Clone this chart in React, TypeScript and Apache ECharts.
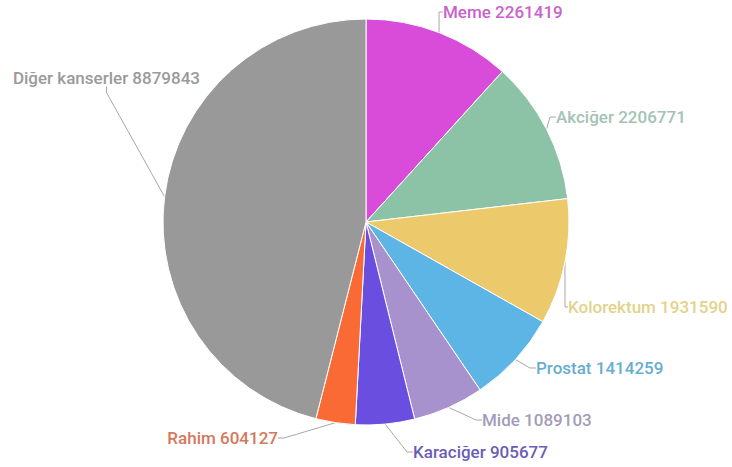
import React, { useEffect, useRef } from "react";
import * as echarts from "echarts";

const names = ["Meme", "Akciğer", "Kolorektum", "Prostat", "Mide", "Karaciğer", "Rahim", "Diğer kanserler"];
const values = [2261419, 2206771, 1931590, 1414259, 1089103, 905677, 604127, 8879843];
const colors = ["#d94bd9", "#8cc3a6", "#ecc96a", "#5db5e5", "#a892cd", "#6a4ee0", "#fa6a35", "#999999"];
const labelColors = ["#c962cb", "#a3c3b4", "#e3d28c", "#68add0", "#a39cb8", "#6a5cb8", "#d4785c", "#9a9a9a"];
// label anchor positions (page coords) and alignment
const labelPos: [number, number, string][] = [
  [443, 12, "left"],
  [556, 117, "left"],
  [568, 307, "left"],
  [536, 368, "left"],
  [482, 420, "left"],
  [413, 452, "left"],
  [278, 438, "right"],
  [200, 78, "right"],
];

export default function App() {
  const ref = useRef<HTMLDivElement>(null);
  useEffect(() => {
    const chart = echarts.init(ref.current!, null, { renderer: "svg" });
    chart.setOption({
      animation: false,
      series: [
        {
          type: "pie",
          center: [366, 222],
          radius: 203,
          startAngle: 90,
          clockwise: true,
          avoidLabelOverlap: false,
          data: names.map((n, i) => ({
            name: n,
            value: values[i],
            itemStyle: { color: colors[i] },
            label: { color: labelColors[i] },
          })),
          itemStyle: { borderColor: "#ffffff", borderWidth: 1 },
          label: {
            show: true,
            formatter: "{b} {c}",
            fontFamily: "Roboto",
            fontSize: 17,
            fontWeight: 500,
            overflow: "none",
          },
          labelLine: {
            show: true,
            length: 8,
            length2: 6,
            lineStyle: { color: "#a8a8a8", width: 1 },
          },
          labelLayout: (p: any) => {
            const pos = labelPos[p.dataIndex];
            return { x: pos[0], y: pos[1], align: pos[2], verticalAlign: "middle" };
          },
        },
      ],
    });
    return () => chart.dispose();
  }, []);
  return (
    <div
      ref={ref}
      style={{ position: "absolute", left: 0, top: 0, width: 732, height: 467 }}
    />
  );
}
